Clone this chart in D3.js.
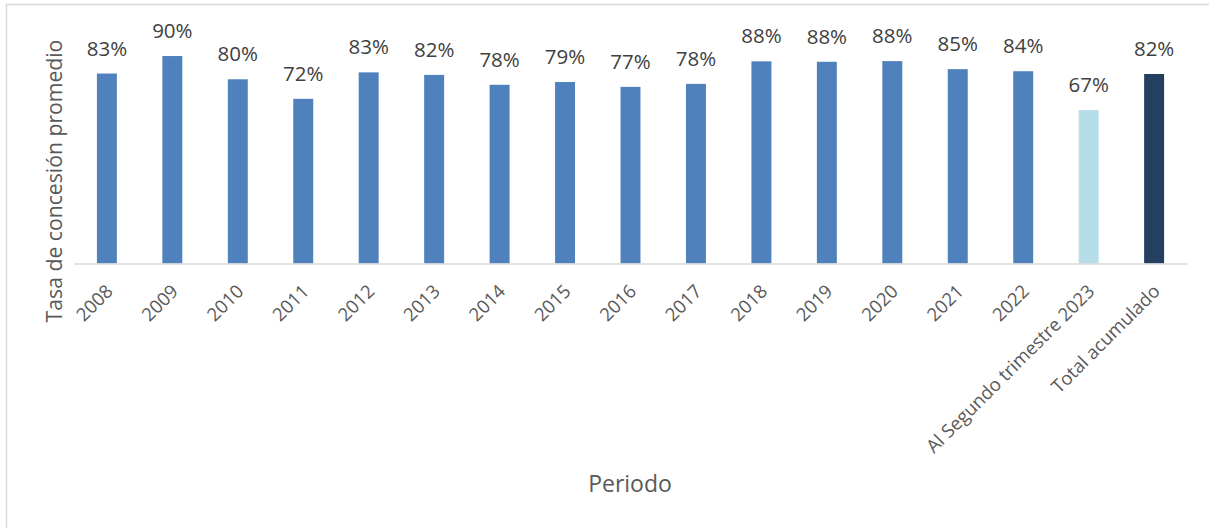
<!DOCTYPE html>
<html>
<head>
<meta charset="utf-8">
<script src="https://cdn.jsdelivr.net/npm/d3@7"></script>
<style>
  html, body { margin: 0; padding: 0; background: #fff; }
  svg { display: block; font-family: "Open Sans", sans-serif; }
</style>
</head>
<body>
<svg id="chart" width="1209" height="528"></svg>
<script>
const categories = ["2008","2009","2010","2011","2012","2013","2014","2015","2016","2017","2018","2019","2020","2021","2022","Al Segundo trimestre 2023","Total acumulado"];
const values = [0.826,0.902,0.801,0.716,0.831,0.820,0.777,0.789,0.768,0.781,0.879,0.877,0.880,0.845,0.836,0.667,0.824];
const barColors = ["#4F81BD","#4F81BD","#4F81BD","#4F81BD","#4F81BD","#4F81BD","#4F81BD","#4F81BD","#4F81BD","#4F81BD","#4F81BD","#4F81BD","#4F81BD","#4F81BD","#4F81BD","#B7DDE8","#243F60"];
const yTitle = "Tasa de concesión promedio";
const xTitle = "Periodo";

const svg = d3.select("#chart");

// chart frame (only top/left visible)
svg.append("rect").attr("x", 6.5).attr("y", 4.5).attr("width", 1240).attr("height", 560)
  .attr("fill", "none").attr("stroke", "#d9d9d9").attr("stroke-width", 1.5);

const plot = { left: 74, right: 1187, top: 33.5, bottom: 263.5 };

const x = d3.scaleBand().domain(categories).range([plot.left, plot.right]).paddingInner(0.695).paddingOuter(0.35);
const y = d3.scaleLinear().domain([0, 1]).range([plot.bottom, plot.top]);

svg.selectAll("rect.bar").data(categories).join("rect")
  .attr("class", "bar")
  .attr("x", d => x(d))
  .attr("width", x.bandwidth())
  .attr("y", (d, i) => y(values[i]))
  .attr("height", (d, i) => y(0) - y(values[i]))
  .attr("fill", (d, i) => barColors[i]);

// value labels
svg.selectAll("text.val").data(categories).join("text")
  .attr("class", "val")
  .attr("x", d => x(d) + x.bandwidth() / 2)
  .attr("y", (d, i) => y(values[i]) - 18)
  .attr("text-anchor", "middle")
  .attr("fill", "#404040")
  .style("font-size", "20.5px")
  .text((d, i) => d3.format(".0%")(values[i]));

// x axis
const xAxis = d3.axisBottom(x).tickSize(0).tickPadding(0);
const gx = svg.append("g").attr("transform", `translate(0,${plot.bottom})`).call(xAxis);
gx.select(".domain").attr("stroke", "#d9d9d9").attr("stroke-width", 1.5);
gx.selectAll(".tick text")
  .attr("fill", "#595959")
  .style("font-size", "18.5px")
  .style("font-family", "'Open Sans', sans-serif")
  .attr("text-anchor", "end")
  .attr("dy", null)
  .attr("transform", "translate(7,29) rotate(-45)");

// axis titles
svg.append("text")
  .attr("transform", `translate(62,${181}) rotate(-90)`)
  .attr("text-anchor", "middle")
  .attr("fill", "#595959")
  .style("font-size", "21.2px")
  .text(yTitle);

svg.append("text")
  .attr("x", 630).attr("y", 492)
  .attr("text-anchor", "middle")
  .attr("fill", "#595959")
  .style("font-size", "23px")
  .text(xTitle);
</script>
</body>
</html>
